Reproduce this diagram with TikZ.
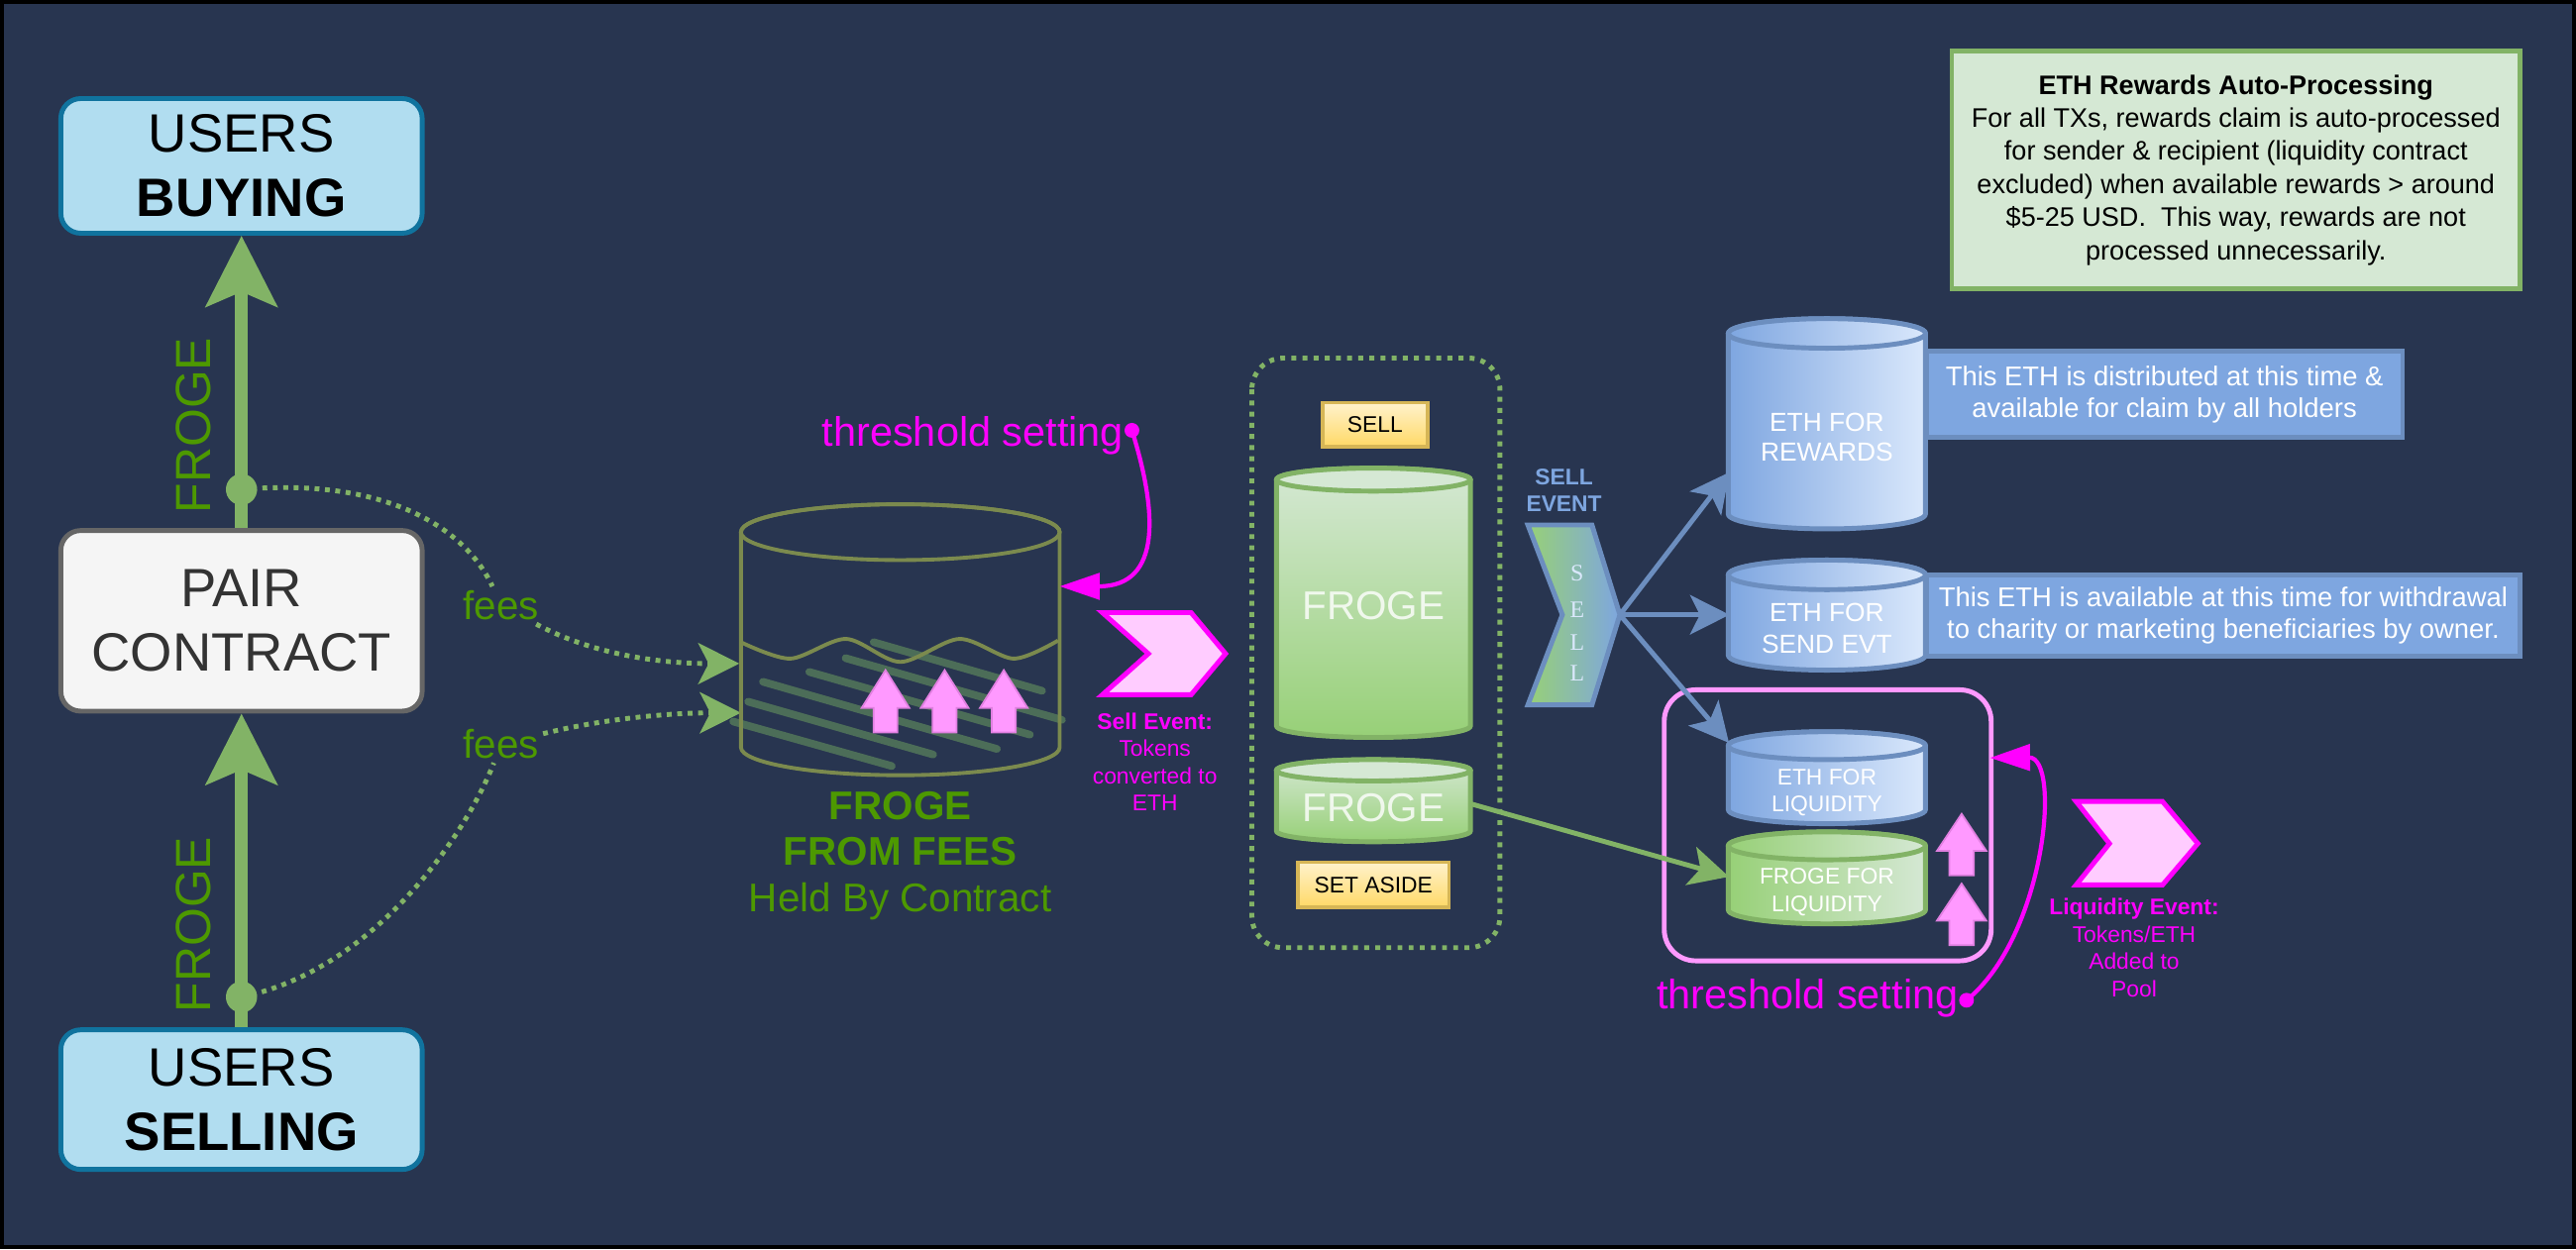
\documentclass[tikz,border=0pt]{standalone}
\usepackage{fontspec}
\setmainfont{Liberation Sans}
\newfontfamily\sellserif{Liberation Serif}
\usetikzlibrary{arrows.meta}

\definecolor{bgnavy}{HTML}{283550}
\definecolor{frogeline}{HTML}{82B366}
\definecolor{frogetext}{HTML}{4D9900}
\definecolor{oliveline}{HTML}{7B8A4E}
\definecolor{hatchline}{HTML}{4C6D58}
\definecolor{thrmag}{HTML}{FF00FF}
\definecolor{pinkfill}{HTML}{FFCCFF}
\definecolor{pinkarr}{HTML}{FF99FF}
\definecolor{pinkline}{HTML}{E07FE0}
\definecolor{userfill}{HTML}{B1DDF0}
\definecolor{userline}{HTML}{10739E}
\definecolor{pairfill}{HTML}{F5F5F5}
\definecolor{pairline}{HTML}{666666}
\definecolor{pairtext}{HTML}{333333}
\definecolor{ethdark}{HTML}{7EA6E0}
\definecolor{ethlight}{HTML}{DAE8FC}
\definecolor{ethline}{HTML}{6C8EBF}
\definecolor{frogedark}{HTML}{97D077}
\definecolor{frogelight}{HTML}{D5E8D4}
\definecolor{tagtop}{HTML}{FFF2CC}
\definecolor{tagbot}{HTML}{FFD966}
\definecolor{tagline}{HTML}{D6B656}

% tank outline: centre x, top y, bottom y, x radius, y radius
\newcommand{\tankbody}[5]{(#1-#4,#2) -- (#1-#4,#3) arc[start angle=180,end angle=0,x radius=#4,y radius=#5] -- (#1+#4,#2) arc[start angle=0,end angle=-180,x radius=#4,y radius=#5] -- cycle}

\begin{document}
\begin{tikzpicture}[x=0.01658cm,y=-0.01658cm,
    userbox/.style={draw=userline,fill=userfill,line width=1.4pt,rounded corners=5.7pt,
      minimum width=3.648cm,inner sep=0pt,align=center,font=\fontsize{15.5}{18.4}\selectfont},
    pairbox/.style={userbox,draw=pairline,fill=pairfill,text=pairtext},
    froge/.style={draw=frogeline,line width=3.8pt,-{Stealth[length=20.3pt,width=20.3pt,inset=4.2pt]}},
    frogelbl/.style={text=frogetext,rotate=90,font=\fontsize{14.2}{16}\selectfont,inner sep=0pt},
    fees/.style={draw=frogeline,line width=1.4pt,dash pattern=on 1.4pt off 1.6pt},
    feestip/.style={fees,-{Stealth[length=11.8pt,width=11.8pt,inset=3pt]}},
    feeslbl/.style={text=frogetext,font=\fontsize{11.5}{13}\selectfont,inner sep=1pt},
    thresh/.style={draw=thrmag,line width=1.2pt,-{Triangle[length=11.5pt,width=7.5pt]}},
    thrlbl/.style={text=thrmag,font=\fontsize{11.8}{14}\selectfont,inner sep=0pt},
    pinkchev/.style={draw=thrmag,fill=pinkfill,line width=1.4pt},
    pinkup/.style={draw=pinkline,fill=pinkarr,line width=0.5pt},
    evtext/.style={text=thrmag,align=center,font=\fontsize{6.5}{7.8}\selectfont,inner sep=0pt},
    tag/.style={draw=tagline,line width=1pt,top color=tagtop,bottom color=tagbot,inner sep=0pt,font=\fontsize{6.5}{8}\selectfont},
    ethtank/.style={draw=ethline,line width=1.4pt,left color=ethdark,right color=ethlight},
    frogetank/.style={draw=frogeline,line width=1.4pt,left color=frogedark,right color=frogelight},
    tanktext/.style={text=white,align=center,inner sep=0pt},
    desc/.style={draw=ethline,fill=ethdark,line width=1.4pt,text=white,align=center,inner sep=0pt,font=\fontsize{7.8}{9.2}\selectfont},
    etharrow/.style={draw=ethline,line width=1.4pt,-{Stealth[length=11.3pt,width=11.3pt,inset=2.8pt]}},
    selllet/.style={text=ethlight,inner sep=0pt,font=\sellserif\fontsize{6.8}{8}\selectfont}
  ]
  \useasboundingbox (0,0) rectangle (1568,760.5);
  %frame
  \fill[black] (0,0) rectangle (1568,760.5);
  \fill[bgnavy] (2.5,2.5) rectangle (1565.5,758);

  %users and pair
  \node[userbox,minimum height=1.36cm] (buy) at (147,101) {USERS\\\textbf{BUYING}};
  \node[pairbox,minimum height=1.824cm] (pair) at (147,378) {PAIR\\CONTRACT};
  \node[userbox,minimum height=1.41cm] (sell) at (147,669.5) {USERS\\\textbf{SELLING}};
  \draw[froge] (pair.north) -- (buy.south);
  \draw[froge] (sell.north) -- (pair.south);
  \coordinate (tapA) at (147,298);
  \coordinate (tapB) at (147,607);
  \fill[frogeline] (tapA) circle[radius=9.5];
  \fill[frogeline] (tapB) circle[radius=9.5];
  \node[frogelbl] (frogeup) at (118,259) {FROGE};
  \node[frogelbl] (frogedown) at (118,563) {FROGE};

  %fees
  \coordinate (feeinA) at (450,404);
  \coordinate (feeinB) at (451,434);
  \node[feeslbl] (feesA) at (305,368.5) {fees};
  \node[feeslbl] (feesB) at (305,453) {fees};
  \draw[fees] (tapA) .. controls (240,290) and (285,325) .. (feesA);
  \draw[feestip] (feesA) .. controls (360,398) and (400,404) .. (feeinA);
  \draw[fees] (tapB) .. controls (230,590) and (285,505) .. (feesB);
  \draw[feestip] (feesB) .. controls (370,437) and (410,434) .. (feeinB);

  %fee tank
  \foreach \a/\b in {{531.8,391}/{634.3,420.6},{514.7,400.7}/{646.4,438.3},{492.6,409.1}/{626.9,447.3},
      {464.4,415.1}/{606.8,456},{455.4,427.2}/{568,459.4},{446.3,439.3}/{542.8,466.4}}
    \draw[hatchline,line width=2.2pt,line cap=round] (\a) -- (\b);
  \draw[oliveline,line width=1.1pt] \tankbody{548}{324}{455}{97}{17};
  \draw[oliveline,line width=1.1pt] (548,324) ellipse[x radius=97,y radius=17];
  \draw[oliveline,line width=1.1pt] plot[smooth] coordinates {(451,391) (481,401) (515,389) (548,403) (584,389) (617,401) (644,390)};
  \foreach \x in {539,575,611}
    \filldraw[pinkup] (\x,408) -- (\x+14.5,431) -- (\x+7.3,431) -- (\x+7.3,446) -- (\x-7.3,446) -- (\x-7.3,431) -- (\x-14.5,431) -- cycle;
  \node[text=frogetext,align=center,inner sep=0pt,font=\fontsize{11.5}{13.2}\selectfont] (feelbl) at (548,521) {\textbf{FROGE}\\\textbf{FROM FEES}\\Held By Contract};

  %threshold at fee tank
  \coordinate (thrA) at (689,262);
  \coordinate (thrinA) at (645,357);
  \node[thrlbl,anchor=base west] (thrlblA) at (500,271.5) {threshold setting};
  \fill[thrmag] (thrA) circle[radius=4.5];
  \draw[thresh] (thrA) .. controls (704,310) and (708,357) .. (thrinA);

  %sell event
  \filldraw[pinkchev] (671,373) -- (725,373) -- (746,398) -- (725,423) -- (671,423) -- (699,398) -- cycle;
  \node[evtext] (sellevt) at (703,464) {\textbf{Sell Event:}\\Tokens\\converted to\\ETH};

  %sell and set aside
  \draw[frogeline,line width=1.4pt,dash pattern=on 1.4pt off 1.8pt,rounded corners=9pt] (762,218) rectangle (913,577);
  \node[tag,minimum width=1.061cm,minimum height=0.448cm] (selltag) at (837,258.5) {SELL};
  \draw[draw=frogeline,line width=1.4pt,top color=frogelight,bottom color=frogedark] \tankbody{836}{292}{442}{59}{7};
  \filldraw[fill=frogelight,draw=frogeline,line width=1.4pt] (836,292) ellipse[x radius=59,y radius=7];
  \node[tanktext,text opacity=0.8,font=\fontsize{11.5}{13}\selectfont] (sellfroge) at (836,369) {FROGE};
  \draw[draw=frogeline,line width=1.4pt,top color=frogelight,bottom color=frogedark] \tankbody{836}{469}{506}{59}{6.5};
  \filldraw[fill=frogelight,draw=frogeline,line width=1.4pt] (836,469) ellipse[x radius=59,y radius=6.5];
  \node[tanktext,text opacity=0.8,font=\fontsize{11.5}{13}\selectfont] (asidefroge) at (836,492) {FROGE};
  \node[tag,minimum width=1.525cm,minimum height=0.456cm] (asidetag) at (836,538.75) {SET ASIDE};
  \coordinate (asideout) at (895.6,489.5);

  %sell chevron
  \node[text=ethdark,align=center,inner sep=0pt,font=\bfseries\fontsize{6.5}{7.8}\selectfont] (selllbl) at (952,298.5) {SELL\\EVENT};
  \draw[draw=ethline,line width=1.4pt,left color=frogedark,right color=ethdark] (930,319.6) -- (969,319.6) -- (986,374.3) -- (969,429.2) -- (930,429.2) -- (951,374.3) -- cycle;
  \foreach \l/\y/\n in {S/349/a,E/371/b,L/391/c,L/409.6/d}
    \node[selllet] (sell\n) at (960,\y) {\l};
  \coordinate (selltip) at (986,374.3);

  %eth tanks
  \draw[ethtank] \tankbody{1112}{203}{313}{60}{9};
  \draw[ethtank] (1112,203) ellipse[x radius=60,y radius=9];
  \node[tanktext,font=\fontsize{7.5}{8.7}\selectfont] (rewards) at (1112,266.2) {ETH FOR\\REWARDS};
  \draw[ethtank] \tankbody{1112}{350}{399}{60}{9};
  \draw[ethtank] (1112,350) ellipse[x radius=60,y radius=9];
  \node[tanktext,font=\fontsize{7.5}{9}\selectfont] (sendevt) at (1112,382.5) {ETH FOR\\SEND EVT};
  \node[desc,minimum width=4.808cm,minimum height=0.869cm] (rewdesc) at (1317.5,240.2) {This ETH is distributed at this time \&\\available for claim by all holders};
  \node[desc,minimum width=5.994cm,minimum height=0.824cm] (senddesc) at (1353.25,374.85) {This ETH is available at this time for withdrawal\\to charity or marketing beneficiaries by owner.};

  %liquidity
  \draw[pinkarr,line width=1.4pt,rounded corners=9pt] (1013,420) rectangle (1212,585);
  \draw[ethtank] \tankbody{1112}{454}{493}{60}{8.5};
  \draw[ethtank] (1112,454) ellipse[x radius=60,y radius=8.5];
  \node[tanktext,font=\fontsize{6.5}{7.5}\selectfont] (ethliq) at (1112,482.5) {ETH FOR\\LIQUIDITY};
  \draw[frogetank] \tankbody{1112}{515}{554}{60}{8.5};
  \draw[frogetank] (1112,515) ellipse[x radius=60,y radius=8.5];
  \node[tanktext,font=\fontsize{6.5}{8}\selectfont] (frogeliq) at (1112,543.3) {FROGE FOR\\LIQUIDITY};
  \foreach \t in {495.5,538}
    \filldraw[pinkup] (1194,\t) -- (1209,\t+22.5) -- (1201.5,\t+22.5) -- (1201.5,\t+37.5) -- (1186.5,\t+37.5) -- (1186.5,\t+22.5) -- (1179,\t+22.5) -- cycle;
  \coordinate (rewin) at (1052.7,287.5);
  \coordinate (sendin) at (1052.7,374.3);
  \coordinate (ethliqin) at (1052.4,452.3);
  \coordinate (frogeliqin) at (1052.4,533.8);

  %arrows
  \draw[etharrow] (selltip) -- (rewin);
  \draw[etharrow] (selltip) -- (sendin);
  \draw[etharrow] (selltip) -- (ethliqin);
  \draw[draw=frogeline,line width=1.4pt,-{Stealth[length=11.3pt,width=11.3pt,inset=2.8pt]}] (asideout) -- (frogeliqin);

  %threshold at liquidity
  \coordinate (thrB) at (1197,609);
  \coordinate (thrinB) at (1211.3,461.4);
  \node[thrlbl,anchor=base west] (thrlblB) at (1008,614) {threshold setting};
  \fill[thrmag] (thrB) circle[radius=4.5];
  \draw[thresh] (thrB) .. controls (1245,570) and (1255,461) .. (thrinB);

  %liquidity event
  \filldraw[pinkchev] (1263.7,488) -- (1316.3,488) -- (1337.8,513.6) -- (1316.3,538.8) -- (1263.7,538.8) -- (1284,513.6) -- cycle;
  \node[evtext] (liqevt) at (1299,577) {\textbf{Liquidity Event:}\\Tokens/ETH\\Added to\\Pool};

  %auto-processing note
  \node[draw=frogeline,fill=frogelight,line width=1.4pt,minimum width=5.737cm,minimum height=2.404cm,
    align=center,inner sep=0pt,font=\fontsize{7.7}{9.5}\selectfont] (autoproc) at (1361,103.5)
    {\textbf{ETH Rewards Auto-Processing}\\For all TXs, rewards claim is auto-processed\\for sender \& recipient (liquidity contract\\excluded) when available rewards > around\\\$5-25 USD.\ \ This way, rewards are not\\processed unnecessarily.};
\end{tikzpicture}
\end{document}
